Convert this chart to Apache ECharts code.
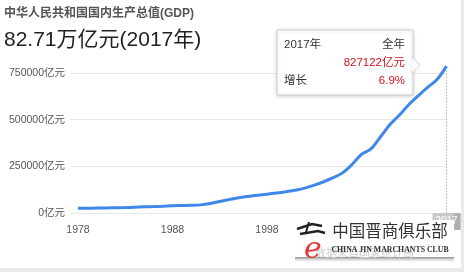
<!DOCTYPE html>
<html><head><meta charset="utf-8">
<script src="https://cdn.jsdelivr.net/npm/echarts@6/dist/echarts.min.js"></script>
<style>
html,body{margin:0;padding:0;background:#e9e9e9;width:464px;height:272px;overflow:hidden}
#card{position:absolute;left:0;top:0;width:461px;height:268px;background:#fff}
#chart{position:absolute;left:0;top:0;width:464px;height:272px}
</style></head><body><div id="card"></div><div id="chart"></div>
<script>
// Data (亿元)
const years = [1978,1979,1980,1981,1982,1983,1984,1985,1986,1987,1988,1989,1990,1991,1992,1993,1994,1995,1996,1997,1998,1999,2000,2001,2002,2003,2004,2005,2006,2007,2008,2009,2010,2011,2012,2013,2014,2015,2016,2017];
const gdp = [25000,25500,26500,27000,28000,29000,31000,33000,34500,36500,39000,40000,41000,43500,51000,62000,72000,82000,89000,95000,101000,107000,114000,122000,133000,149000,167500,189000,215000,260000,314000,343000,407000,473000,524000,580000,628000,673000,715000,787000];
const xTickLabels = [1978,1988,1998,2008];
const yTickValues = [0,250000,500000,750000];
const titleText = '中华人民共和国国内生产总值(GDP)';
const subTitleText = '82.71万亿元(2017年)';
const tipYear = '2017年', tipPeriod = '全年', tipValue = '827122亿元', tipLabel = '增长', tipGrowth = '6.9%';
const unit = '亿元';

const FONT = '"Liberation Sans", Arial, "Noto Sans CJK SC", sans-serif';
const CJK = '"Noto Sans CJK SC", sans-serif';
const chart = echarts.init(document.getElementById('chart'), null, {renderer:'canvas'});
const lastYear = years[years.length-1];
const lastVal = gdp[gdp.length-1];

chart.setOption({
  backgroundColor: 'transparent',
  animation: false,
  title: [
    {text: titleText, left: 4, top: 8, padding: 0,
     textStyle: {fontSize: 12, fontWeight: 'bold', color: '#555', fontFamily: FONT}},
    {text: subTitleText, left: 4, top: 30, padding: 0,
     textStyle: {fontSize: 21, fontWeight: 'normal', color: '#222', fontFamily: FONT}}
  ],
  grid: {left: 70, right: 17.5, top: 73, bottom: 59, containLabel: false},
  xAxis: {
    type: 'value', min: 1977.152, max: 2017,
    axisLine: {show: false}, axisTick: {show: false}, splitLine: {show: false},
    axisLabel: {customValues: xTickLabels, formatter: v => String(v), margin: 12, color: '#555', fontSize: 10.5, fontFamily: FONT}
  },
  yAxis: {
    type: 'value', min: 0, max: 750000, interval: 250000,
    axisLine: {show: false}, axisTick: {show: false},
    splitLine: {lineStyle: {color: '#e8e8e8', width: 1}},
    axisLabel: {formatter: v => v + unit, margin: 5, color: '#555', fontSize: 10.5, fontFamily: FONT}
  },
  series: [
    {
      type: 'line', silent: true, clip: false, showSymbol: false, symbol: 'none', z: 1,
      data: [[lastYear, 0], [lastYear, lastVal]],
      lineStyle: {color: '#b0b0b0', type: [1.5, 1.5], width: 1}
    },
    {
      type: 'line', z: 2,
      data: years.map((y,i) => [y, gdp[i]]),
      clip: false, smooth: 0.3, showSymbol: false, symbol: 'none',
      lineStyle: {color: '#3f88ea', width: 3}
    }
  ],
  graphic: [
    // axis pointer label
    {type: 'rect', shape: {x: 432.5, y: 213, width: 28, height: 17}, style: {fill: '#c9c9c9'}, z: 50},
    {type: 'rect', shape: {x: 454, y: 213, width: 6.5, height: 17}, style: {fill: '#b0b0b0'}, z: 50},
    {type: 'text', x: 446.5, y: 221.5, style: {text: String(lastYear), fill: '#fff', font: '10px ' + FONT, textAlign: 'center', textVerticalAlign: 'middle'}, z: 51},
    // tooltip
    {type: 'polygon', shape: {points: [[412,57.5],[420,65],[412,72.5]]}, style: {fill: '#fff', stroke: '#cfcfcf', lineWidth: 1}, z: 60},
    {type: 'rect', shape: {x: 277, y: 30, width: 136, height: 65}, style: {fill: '#fff', stroke: '#cfcfcf', lineWidth: 1, shadowBlur: 4, shadowColor: 'rgba(0,0,0,0.18)', shadowOffsetY: 1}, z: 59},
    {type: 'rect', shape: {x: 411.5, y: 58.5, width: 2, height: 13}, style: {fill: '#fff'}, z: 61},
    {type: 'text', x: 284, y: 45, style: {text: tipYear, fill: '#333', font: '11.5px ' + FONT, textAlign: 'left', textVerticalAlign: 'middle'}, z: 62},
    {type: 'text', x: 405, y: 45, style: {text: tipPeriod, fill: '#333', font: '11.5px ' + FONT, textAlign: 'right', textVerticalAlign: 'middle'}, z: 62},
    {type: 'text', x: 405, y: 63, style: {text: tipValue, fill: '#d0111b', font: '11.5px ' + FONT, textAlign: 'right', textVerticalAlign: 'middle'}, z: 62},
    {type: 'text', x: 284, y: 81, style: {text: tipLabel, fill: '#333', font: '11.5px ' + FONT, textAlign: 'left', textVerticalAlign: 'middle'}, z: 62},
    {type: 'text', x: 405, y: 81, style: {text: tipGrowth, fill: '#d0111b', font: '11.5px ' + FONT, textAlign: 'right', textVerticalAlign: 'middle'}, z: 62},
    // watermark
    {type: 'rect', shape: {x: 293, y: 220, width: 161, height: 38}, style: {fill: '#fff'}, z: 70},
    {type: 'rect', shape: {x: 295, y: 257, width: 159, height: 6},
     style: {fill: new echarts.graphic.LinearGradient(0,0,0,1,[{offset:0,color:'#8a8a8a'},{offset:1,color:'rgba(255,255,255,0)'}])}, z: 70},
    {type: 'text', x: 315, y: 253, style: {text: '数据来自国家统计局', fill: '#cfcfcf', font: '11px ' + CJK, textAlign: 'left', textVerticalAlign: 'middle'}, z: 71},
    {type: 'polyline', shape: {points: [[297,229],[312,224],[322,226]]}, style: {stroke: '#222', lineWidth: 2.5, fill: null}, z: 72},
    {type: 'polyline', shape: {points: [[300,234],[318,231],[325,233]]}, style: {stroke: '#222', lineWidth: 2.5, fill: null}, z: 72},
    {type: 'polyline', shape: {points: [[309,222],[306,232]]}, style: {stroke: '#222', lineWidth: 2, fill: null}, z: 72},
    {type: 'text', x: 313, y: 250, style: {text: 'e', fill: '#e23838', font: 'italic 30px "DejaVu Serif", serif', textAlign: 'center', textVerticalAlign: 'middle'}, z: 72},
    {type: 'text', x: 390, y: 231, style: {text: '中国晋商俱乐部', fill: '#333', font: '16.5px ' + CJK, textAlign: 'center', textVerticalAlign: 'middle'}, z: 72},
    {type: 'text', x: 390, y: 250, style: {text: 'CHINA JIN MARCHANTS CLUB', fill: '#333', font: 'bold 7.8px "Liberation Serif", serif', textAlign: 'center', textVerticalAlign: 'middle'}, z: 72}
  ]
});
</script></body></html>
